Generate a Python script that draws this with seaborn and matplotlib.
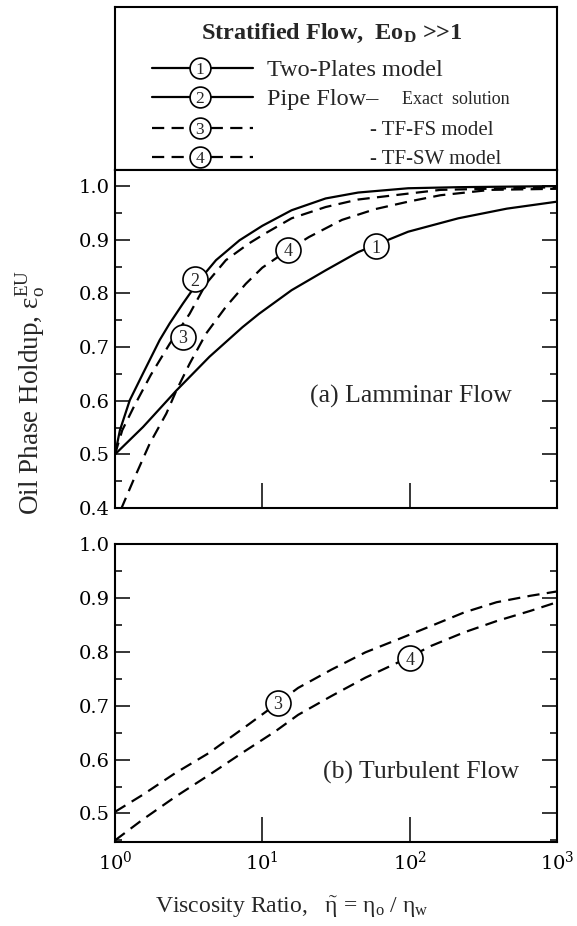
import matplotlib
matplotlib.use("Agg")
import matplotlib.pyplot as plt
import numpy as np
import pandas as pd
import seaborn as sns
from matplotlib.ticker import FixedLocator, MultipleLocator, NullLocator, FuncFormatter, FormatStrFormatter

# ---------------- data ----------------
# (a) laminar flow
x_plates = [1, 1.55, 2.61, 4.38, 7.33, 9.5, 15.8, 26.9, 44.7, 97.7, 214, 457, 1000]
y_plates = [0.500, 0.551, 0.619, 0.682, 0.737, 0.762, 0.806, 0.843, 0.877, 0.915, 0.940, 0.958, 0.971]

x_pipe = [1, 1.08, 1.26, 1.55, 2.01, 2.35, 2.89, 3.74, 4.85, 7.0, 10.0, 15.8, 26.9, 44.7, 97.7, 214, 1000]
y_pipe = [0.500, 0.545, 0.601, 0.651, 0.713, 0.744, 0.781, 0.825, 0.862, 0.899, 0.926, 0.955, 0.977, 0.988, 0.996, 0.998, 1.000]

x_fs_lam = [1, 1.12, 1.35, 1.75, 2.35, 3.21, 4.15, 5.66, 8.1, 10.5, 15.8, 26.9, 44.7, 97.7, 162, 1000]
y_fs_lam = [0.500, 0.545, 0.590, 0.648, 0.706, 0.762, 0.818, 0.862, 0.893, 0.912, 0.940, 0.961, 0.975, 0.986, 0.993, 0.998]

x_sw_lam = [1.10, 1.33, 1.72, 2.23, 2.61, 3.21, 4.15, 5.66, 7.73, 10.0, 15.0, 20.7, 34.7, 58.2, 97.7, 162, 355, 1000]
y_sw_lam = [0.398, 0.451, 0.520, 0.576, 0.619, 0.669, 0.725, 0.775, 0.818, 0.848, 0.881, 0.905, 0.937, 0.957, 0.971, 0.983, 0.993, 0.995]

# (b) turbulent flow
x_fs_turb = [1, 1.53, 2.57, 4.33, 8.05, 12.6, 17.5, 29.5, 50.1, 83.2, 140, 234, 389, 661, 1000]
y_fs_turb = [0.503, 0.534, 0.575, 0.612, 0.665, 0.704, 0.733, 0.767, 0.799, 0.823, 0.848, 0.873, 0.892, 0.904, 0.912]

x_sw_turb = [1, 1.53, 2.57, 4.33, 7.26, 12.2, 17.5, 29.5, 50.1, 97.7, 140, 234, 389, 661, 1000]
y_sw_turb = [0.450, 0.488, 0.531, 0.571, 0.612, 0.652, 0.683, 0.718, 0.752, 0.789, 0.811, 0.836, 0.857, 0.876, 0.892]

# circled curve numbers
lam_lbl_x = [59, 3.47, 2.9, 15.0]
lam_lbl_y = [0.888, 0.826, 0.719, 0.881]
lam_lbl_t = ["1", "2", "3", "4"]
turb_lbl_x = [12.8, 101]
turb_lbl_y = [0.705, 0.788]
turb_lbl_t = ["3", "4"]

legend_nums = ["1", "2", "3", "4"]
legend_styles = ["-", "-", "--", "--"]
x_ticks = [1, 10, 100, 1000]

# ---------------- style ----------------
sns.set_theme(style="white")
plt.rcParams.update({
    "font.family": ["DejaVu Serif"],
    "mathtext.fontset": "custom",
    "mathtext.rm": "Liberation Serif",
    "mathtext.it": "Liberation Serif:italic",
    "mathtext.bf": "Liberation Serif:bold",
    "mathtext.default": "rm",
    "axes.edgecolor": "black",
    "axes.linewidth": 1.5,
    "xtick.color": "black",
    "ytick.color": "black",
})
SERIF = "Liberation Serif"
DASH = (0, (5.5, 3.3))
LW = 1.6

fig = plt.figure(figsize=(5.77, 9.26), dpi=100)
axL = fig.add_axes([0.1993, 0.8164, 0.7660, 0.1760])
ax1 = fig.add_axes([0.1993, 0.4514, 0.7660, 0.3650])
ax2 = fig.add_axes([0.1993, 0.0907, 0.7660, 0.3218])


def fmt_pow(v, pos):
    e = int(round(np.log10(v)))
    return r"$\mathdefault{10^{%d}}$" % e


def style_axis(ax, ylo, yhi, show_x):
    ax.set_xscale("log")
    ax.set_xlim(1, 1000)
    ax.set_ylim(ylo, yhi)
    ax.xaxis.set_major_locator(FixedLocator(x_ticks))
    ax.xaxis.set_minor_locator(NullLocator())
    ax.xaxis.set_major_formatter(FuncFormatter(fmt_pow))
    ax.yaxis.set_major_locator(MultipleLocator(0.1))
    ax.yaxis.set_minor_locator(MultipleLocator(0.05))
    ax.yaxis.set_major_formatter(FormatStrFormatter("%.1f"))
    ax.tick_params(axis="y", which="both", direction="in", left=True, right=True,
                   labelsize=14, pad=4, width=1.1)
    ax.tick_params(axis="y", which="major", length=11)
    ax.tick_params(axis="y", which="minor", length=5)
    ax.tick_params(axis="x", which="major", direction="in", bottom=True, top=False,
                   length=18, width=1.1, labelsize=14, pad=6, labelbottom=show_x)
    ax.set_xlabel("")
    ax.set_ylabel("")
    for s in ax.spines.values():
        s.set_visible(True)
        s.set_linewidth(1.5)
        s.set_color("black")


def circ_labels(ax, xs, ys, ts, ms=18, fs=13):
    ax.plot(xs, ys, linestyle="none", marker="o", ms=ms, mfc="white", mec="black",
            mew=1.2, zorder=5, clip_on=False)
    for x, y, t in zip(xs, ys, ts):
        ax.text(x, y, t, ha="center", va="center_baseline", fontsize=fs,
                family=SERIF, zorder=6)


# (a) laminar
sns.lineplot(x=x_plates, y=y_plates, ax=ax1, color="black", lw=LW, sort=False)
sns.lineplot(x=x_pipe, y=y_pipe, ax=ax1, color="black", lw=LW, sort=False)
sns.lineplot(x=x_fs_lam, y=y_fs_lam, ax=ax1, color="black", lw=LW, linestyle=DASH, sort=False)
sns.lineplot(x=x_sw_lam, y=y_sw_lam, ax=ax1, color="black", lw=LW, linestyle=DASH, sort=False)
style_axis(ax1, 0.4, 1.03, False)
circ_labels(ax1, lam_lbl_x, lam_lbl_y, lam_lbl_t)
ax1.text(21.1, 0.607, "(a) Lamminar Flow", family=SERIF, fontsize=18.5, ha="left", va="center")

# (b) turbulent
sns.lineplot(x=x_fs_turb, y=y_fs_turb, ax=ax2, color="black", lw=LW, linestyle=DASH, sort=False)
sns.lineplot(x=x_sw_turb, y=y_sw_turb, ax=ax2, color="black", lw=LW, linestyle=DASH, sort=False)
style_axis(ax2, 0.447, 1.0, True)
circ_labels(ax2, turb_lbl_x, turb_lbl_y, turb_lbl_t)
ax2.text(25.8, 0.576, "(b) Turbulent Flow", family=SERIF, fontsize=18.5, ha="left", va="center")

# legend box
axL.set_xlim(0, 1)
axL.set_ylim(0, 1)
axL.set_xticks([])
axL.set_yticks([])
for s in axL.spines.values():
    s.set_visible(True)
    s.set_linewidth(1.5)
    s.set_color("black")
axL.text(0.491, 0.835, r"Stratified Flow,  Eo$_{\mathbf{D}}$ >>1", family=SERIF,
         fontweight="bold", fontsize=17.5, ha="center", va="center")
row_y = [0.626, 0.448, 0.258, 0.080]
for y, n, ls in zip(row_y, legend_nums, legend_styles):
    axL.plot([0.084, 0.312], [y, y], color="black", lw=LW,
             linestyle=("-" if ls == "-" else DASH))
    axL.plot([0.192], [y], marker="o", ms=15, mfc="white", mec="black", mew=1.2,
             linestyle="none", zorder=5)
    axL.text(0.192, y, n, ha="center", va="center_baseline", fontsize=12.5,
             family=SERIF, zorder=6)
axL.text(0.344, row_y[0], "Two-Plates model", family=SERIF, fontsize=17.5,
         ha="left", va="center_baseline")
axL.text(0.344, row_y[1], "Pipe Flow\u2013", family=SERIF, fontsize=17.5,
         ha="left", va="center_baseline")
axL.text(0.649, row_y[1], "Exact  solution", family=SERIF, fontsize=13,
         ha="left", va="center_baseline")
axL.text(0.577, row_y[2], "- TF-FS model", family=SERIF, fontsize=15,
         ha="left", va="center_baseline")
axL.text(0.577, row_y[3], "- TF-SW model", family=SERIF, fontsize=15,
         ha="left", va="center_baseline")

# axis titles
fig.text(0.052, 1 - 392 / 926, r"Oil Phase Holdup, $\varepsilon_o^{EU}$",
         family=SERIF, fontsize=19.5, rotation=90, ha="center", va="center")
fig.text(0.506, 0.014, r"Viscosity Ratio,   $\tilde{\eta}$ = $\eta_o$ / $\eta_w$",
         family=SERIF, fontsize=17, ha="center", va="baseline")

fig.savefig("out.png", dpi=100)
